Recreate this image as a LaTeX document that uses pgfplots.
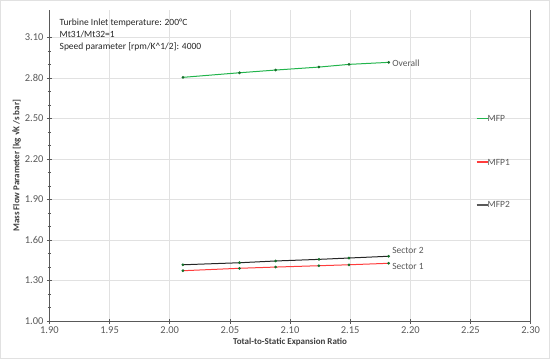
\documentclass[border=0pt]{standalone}
\usepackage{pgfplots}
\pgfplotsset{compat=1.18}
\usepackage{fontspec}
\setmainfont{Carlito}
\definecolor{cgreen}{RGB}{34,180,76}
\definecolor{cred}{RGB}{255,60,60}
\definecolor{cblack}{RGB}{38,38,38}
\definecolor{cmark}{RGB}{20,110,40}
\definecolor{ctick}{RGB}{89,89,89}
\definecolor{cgrid}{RGB}{225,225,225}
\pgfplotstableread{
x y
2.011 2.804
2.058 2.838
2.088 2.858
2.124 2.880
2.149 2.900
2.182 2.915
}\overall
\pgfplotstableread{
x y
2.011 1.417
2.058 1.432
2.088 1.445
2.124 1.457
2.149 1.467
2.182 1.480
}\sectortwo
\pgfplotstableread{
x y
2.011 1.373
2.058 1.391
2.088 1.400
2.124 1.410
2.149 1.417
2.182 1.428
}\sectorone
\newcommand{\legline}[1]{\textcolor{#1}{\rule[0.25em]{11bp}{1.5pt}}}
\begin{document}
\begin{tikzpicture}
\begin{axis}[
  scale only axis,
  width=480bp, height=310bp,
  xmin=1.90, xmax=2.30, ymin=1.00, ymax=3.30,
  xtick={1.90,1.95,...,2.31},
  ytick={1.00,1.30,...,3.11},
  minor y tick num=2,
  xticklabel style={/pgf/number format/.cd,fixed,fixed zerofill,precision=2},
  yticklabel style={/pgf/number format/.cd,fixed,fixed zerofill,precision=2},
  /pgf/number format/assume math mode=true,
  ticklabel style={font=\fontsize{10.5}{12}\selectfont, text=ctick},
  tick align=center,
  major tick length=5bp, minor tick length=3bp,
  tick style={ctick, line width=0.6pt},
  grid=major,
  major grid style={cgrid, line width=0.6pt},
  axis line style={ctick, line width=0.8pt},
  axis x line*=bottom,
  axis y line*=left,
  xlabel={\bfseries Total-to-Static Expansion Ratio},
  ylabel={\bfseries Mass Flow Parameter [kg √K /s bar]},
  label style={font=\fontsize{9}{10}\selectfont, text=ctick!70!black},
  xlabel style={yshift=3bp},
  ylabel style={yshift=-3bp},
  clip=false,
]
\addplot[cgreen, line width=1pt, mark=*, mark size=0.8pt, mark options={cmark, fill=cmark}] table[x=x,y=y] {\overall};
\addplot[cred, line width=1pt, mark=*, mark size=0.8pt, mark options={cmark, fill=cmark}] table[x=x,y=y] {\sectorone};
\addplot[cblack, line width=1pt, mark=*, mark size=0.8pt, mark options={cmark, fill=cmark}] table[x=x,y=y] {\sectortwo};
\draw[ctick, line width=0.8pt] (rel axis cs:1,0) -- (rel axis cs:1,1);
\node[anchor=west, font=\fontsize{9.5}{11}\selectfont, text=ctick, inner sep=1bp] at (axis cs:2.184,2.912) {Overall};
\node[anchor=west, font=\fontsize{9.5}{11}\selectfont, text=ctick, inner sep=1bp] at (axis cs:2.184,1.526) {Sector 2};
\node[anchor=west, font=\fontsize{9.5}{11}\selectfont, text=ctick, inner sep=1bp] at (axis cs:2.184,1.403) {Sector 1};
\node[anchor=west, font=\fontsize{9.5}{11}\selectfont, text=ctick, inner sep=0pt] at (rel axis cs:0.8875,0.652) {\legline{cgreen}MFP};
\node[anchor=west, font=\fontsize{9.5}{11}\selectfont, text=ctick, inner sep=0pt] at (rel axis cs:0.8875,0.512) {\legline{cred}MFP1};
\node[anchor=west, font=\fontsize{9.5}{11}\selectfont, text=ctick, inner sep=0pt] at (rel axis cs:0.8875,0.374) {\legline{ctick}MFP2};
\node[anchor=north west, align=left, font=\fontsize{9.5}{12}\selectfont, text=black!85, inner sep=0pt] at ([xshift=10bp,yshift=-8bp]rel axis cs:0,1) {Turbine Inlet temperature: 200°C\\Mt31/Mt32=1\\Speed parameter [rpm/K\textasciicircum 1/2]: 4000};
\draw[cgrid, line width=0.6pt] ([xshift=-49bp,yshift=-37bp]rel axis cs:0,0) rectangle ([xshift=19bp,yshift=10bp]rel axis cs:1,1);
\end{axis}
\end{tikzpicture}
\end{document}
